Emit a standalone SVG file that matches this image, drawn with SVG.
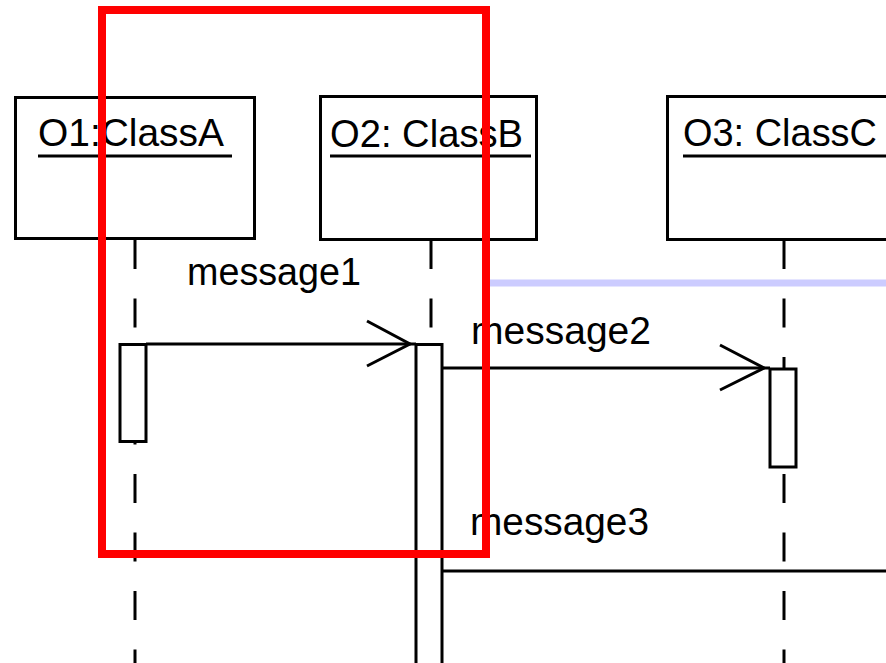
<svg xmlns="http://www.w3.org/2000/svg" width="886" height="663" viewBox="0 0 886 663">
<style>
.box{fill:#fff;stroke:#000;stroke-width:3}
.act{fill:#fff;stroke:#000;stroke-width:3}
.life{stroke:#000;stroke-width:3;stroke-dasharray:29 29.5;fill:none}
.ul{stroke:#000;stroke-width:3}
.msg{stroke:#000;stroke-width:3;fill:none}
.head{stroke:#000;stroke-width:3;fill:none;stroke-linejoin:miter}
text{font-family:"Liberation Sans",Arial,sans-serif;font-size:39px;fill:#000}
.lbl{font-size:38px}
</style>
<rect width="886" height="663" fill="#fff"/>
<g id="lifelines">
<line class="life" x1="135" y1="240" x2="135" y2="663"/>
<line class="life" x1="431" y1="240" x2="431" y2="663"/>
<line class="life" x1="784" y1="240" x2="784" y2="663"/>
</g>
<g id="O1">
<rect class="box" x="15.5" y="97.5" width="239" height="141"/>
<text x="38" y="146" textLength="186" lengthAdjust="spacingAndGlyphs">O1:ClassA</text>
<line class="ul" x1="38" y1="156" x2="232" y2="156"/>
</g>
<g id="O2">
<rect class="box" x="320.5" y="96.5" width="216" height="143"/>
<text x="330" y="147" textLength="193" lengthAdjust="spacingAndGlyphs">O2: ClassB</text>
<line class="ul" x1="330" y1="156" x2="531" y2="156"/>
</g>
<g id="O3">
<rect class="box" x="667.5" y="96.5" width="230" height="143"/>
<text x="683" y="146" textLength="194" lengthAdjust="spacingAndGlyphs">O3: ClassC</text>
<line class="ul" x1="683" y1="156" x2="886" y2="156"/>
</g>
<g id="activations">
<rect class="act" x="120" y="344.5" width="26" height="97"/>
<rect class="act" x="416" y="344.5" width="26" height="330"/>
<rect class="act" x="770" y="369" width="26" height="98"/>
</g>
<g id="connectors">
<line class="msg" x1="146" y1="344" x2="416" y2="344"/>
<polyline class="head" points="367,321 410,344 367,366"/>
<line class="msg" x1="442" y1="368" x2="770" y2="368"/>
<polyline class="head" points="720,345 764,368 720,390"/>
<line class="msg" x1="442" y1="571" x2="886" y2="571"/>
</g>
<g id="labels">
<text class="lbl" x="187" y="285" textLength="174" lengthAdjust="spacingAndGlyphs">message1</text>
<text class="lbl" x="471" y="344" textLength="180" lengthAdjust="spacingAndGlyphs">message2</text>
<text class="lbl" x="470" y="535" textLength="179" lengthAdjust="spacingAndGlyphs">message3</text>
</g>
<g id="highlight">
<line x1="486" y1="283" x2="886" y2="283" stroke="#ccccff" stroke-width="7"/>
<rect x="102" y="10" width="384" height="544" fill="none" stroke="#ff0000" stroke-width="8"/>
</g>
</svg>
